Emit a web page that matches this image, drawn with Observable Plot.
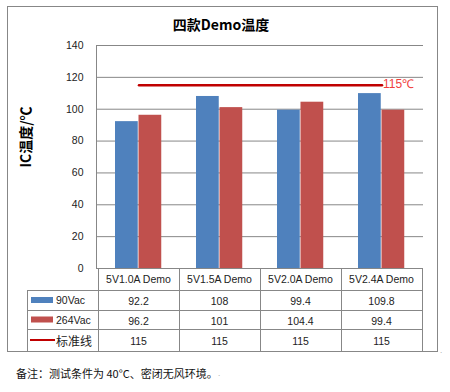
<!DOCTYPE html>
<html>
<head>
<meta charset="utf-8">
<script src="https://cdn.jsdelivr.net/npm/d3@7"></script>
<script src="https://cdn.jsdelivr.net/npm/@observablehq/plot@0.6"></script>
<style>
  html, body { margin: 0; padding: 0; background: #fff; }
  #wrap { position: relative; width: 450px; height: 392px; overflow: hidden; }
  #wrap > svg { position: absolute; left: 0; top: 0; }
</style>
</head>
<body>
<div id="wrap"></div>
<script>
// ---- data ----
const categories = ["5V1.0A Demo", "5V1.5A Demo", "5V2.0A Demo", "5V2.4A Demo"];
const seriesNames = ["90Vac", "264Vac", "标准线"];
const v90 = [92.2, 108, 99.4, 109.8];
const v264 = [96.2, 101, 104.4, 99.4];
const standard = [115, 115, 115, 115];
const yTicks = [0, 20, 40, 60, 80, 100, 120, 140];
const titleText = "四款Demo温度";
const yLabel = "IC温度/℃";
const standardLabel = "115℃";
const footerText = "备注：测试条件为 40°C、密闭无风环境。";

const rows = categories.map((c, i) => ({cat: c, v90: v90[i], v264: v264[i], std: standard[i]}));

const BLUE = "#4F81BD", RED = "#C0504D", LINE = "#C00000", GRID = "#878787";
const latin = "'Liberation Sans', Arial, sans-serif";
const cjk = "'Noto Sans CJK SC', 'Liberation Sans', sans-serif";

const wrap = document.getElementById("wrap");

// ---- chart ----
const axisLine = (index, scales, values, dims) => {
  const l = d3.create("svg:line")
    .attr("x1", dims.marginLeft + 0.5).attr("x2", dims.marginLeft + 0.5)
    .attr("y1", dims.marginTop).attr("y2", dims.height - dims.marginBottom + 1)
    .attr("stroke", GRID);
  return l.node();
};

const plot = Plot.plot({
  width: 450,
  height: 270,
  marginLeft: 96,
  marginRight: 27,
  marginTop: 45,
  marginBottom: 2,
  style: {fontFamily: latin, fontSize: "10.5px", color: "#222", background: "transparent", overflow: "visible"},
  x: {domain: categories, padding: 0, axis: null},
  y: {domain: [0, 140], axis: null},
  marks: [
    Plot.gridY(yTicks, {stroke: GRID, strokeOpacity: 1}),
    Plot.axisY(yTicks, {tickSize: 0, tickPadding: 13, fontSize: 10.5}),
    Plot.barY(rows, {x: "cat", y: "v90", fill: BLUE, insetLeft: 17, insetRight: 41.25}),
    Plot.barY(rows, {x: "cat", y: "v264", fill: RED, insetLeft: 40.5, insetRight: 17.75}),
    Plot.lineY(rows, {x: "cat", y: "std", stroke: LINE, strokeWidth: 2.5}),
    Plot.text(rows.slice(-1), {x: "cat", y: "std", text: () => standardLabel, textAnchor: "start", dx: 1, dy: -1, fill: "#F0403C", fontSize: 12, fontFamily: latin}),
    axisLine
  ]
});

// ---- frame, title, table, footer (overlay) ----
const svg = d3.create("svg").attr("width", 450).attr("height", 392)
  .attr("font-family", latin);

svg.append("rect").attr("x", 7.5).attr("y", 6.5).attr("width", 430).attr("height", 345)
  .attr("fill", "#fff").attr("stroke", GRID);

svg.append("text").attr("x", 221).attr("y", 24).attr("text-anchor", "middle")
  .attr("dominant-baseline", "central")
  .attr("font-family", cjk).attr("font-weight", "bold").attr("font-size", 14).attr("fill", "#000")
  .text(titleText);

svg.append("text").attr("transform", "translate(25,137) rotate(-90)")
  .attr("text-anchor", "middle").attr("dominant-baseline", "central")
  .attr("font-family", cjk).attr("font-weight", "bold").attr("font-size", 14).attr("fill", "#000")
  .text(yLabel);

// table, columns follow the chart's x scale
const xs = plot.scale("x");
const bw = xs.bandwidth;
const colStarts = categories.map(c => xs.apply(c));
const tableLeft = 27, tableRight = colStarts[3] + bw;
const rowLines = [268, 290, 310, 329, 351];
const g = svg.append("g").attr("stroke", GRID).attr("shape-rendering", "crispEdges");
// horizontal lines
g.append("line").attr("x1", colStarts[0]).attr("x2", tableRight).attr("y1", rowLines[0] + 0.5).attr("y2", rowLines[0] + 0.5);
rowLines.slice(1, 4).forEach(y => g.append("line").attr("x1", tableLeft).attr("x2", tableRight).attr("y1", y + 0.5).attr("y2", y + 0.5));
// vertical lines
g.append("line").attr("x1", tableLeft + 0.5).attr("x2", tableLeft + 0.5).attr("y1", rowLines[1]).attr("y2", rowLines[4]);
[...colStarts, tableRight].forEach(x => g.append("line").attr("x1", Math.round(x) + 0.5).attr("x2", Math.round(x) + 0.5).attr("y1", rowLines[0]).attr("y2", rowLines[4]));

const mid = i => (rowLines[i] + rowLines[i + 1]) / 2 + 1;
const tg = svg.append("g").attr("font-size", 10.5).attr("fill", "#222").attr("text-anchor", "middle").attr("dominant-baseline", "central");
categories.forEach((c, i) => tg.append("text").attr("x", colStarts[i] + bw / 2).attr("y", mid(0) - 1).text(c));
[v90, v264, standard].forEach((arr, r) => arr.forEach((v, i) =>
  tg.append("text").attr("x", colStarts[i] + bw / 2).attr("y", mid(r + 1)).text(String(v))));

// legend column
svg.append("rect").attr("x", 31).attr("y", mid(1) - 4).attr("width", 22).attr("height", 6).attr("fill", BLUE);
svg.append("rect").attr("x", 31).attr("y", mid(2) - 4).attr("width", 22).attr("height", 6).attr("fill", RED);
svg.append("line").attr("x1", 30).attr("x2", 55).attr("y1", mid(3) - 1).attr("y2", mid(3) - 1).attr("stroke", LINE).attr("stroke-width", 2);
seriesNames.forEach((s, r) => svg.append("text").attr("x", 56).attr("y", mid(r + 1) - 1)
  .attr("dominant-baseline", "central").attr("font-size", r === 2 ? 12 : 10.5)
  .attr("font-family", r === 2 ? cjk : latin).attr("fill", "#222").text(s));

// footer
svg.append("text").attr("x", 16).attr("y", 373).attr("dominant-baseline", "central")
  .attr("font-family", cjk).attr("font-size", 11).attr("fill", "#111").text(footerText);
svg.append("text").attr("x", 218).attr("y", 376).attr("font-size", 8).attr("fill", "#999").text(".");
svg.append("text").attr("x", 440).attr("y", 353).attr("font-size", 8).attr("fill", "#999").text(".");

wrap.appendChild(svg.node());
wrap.appendChild(plot);
</script>
</body>
</html>
